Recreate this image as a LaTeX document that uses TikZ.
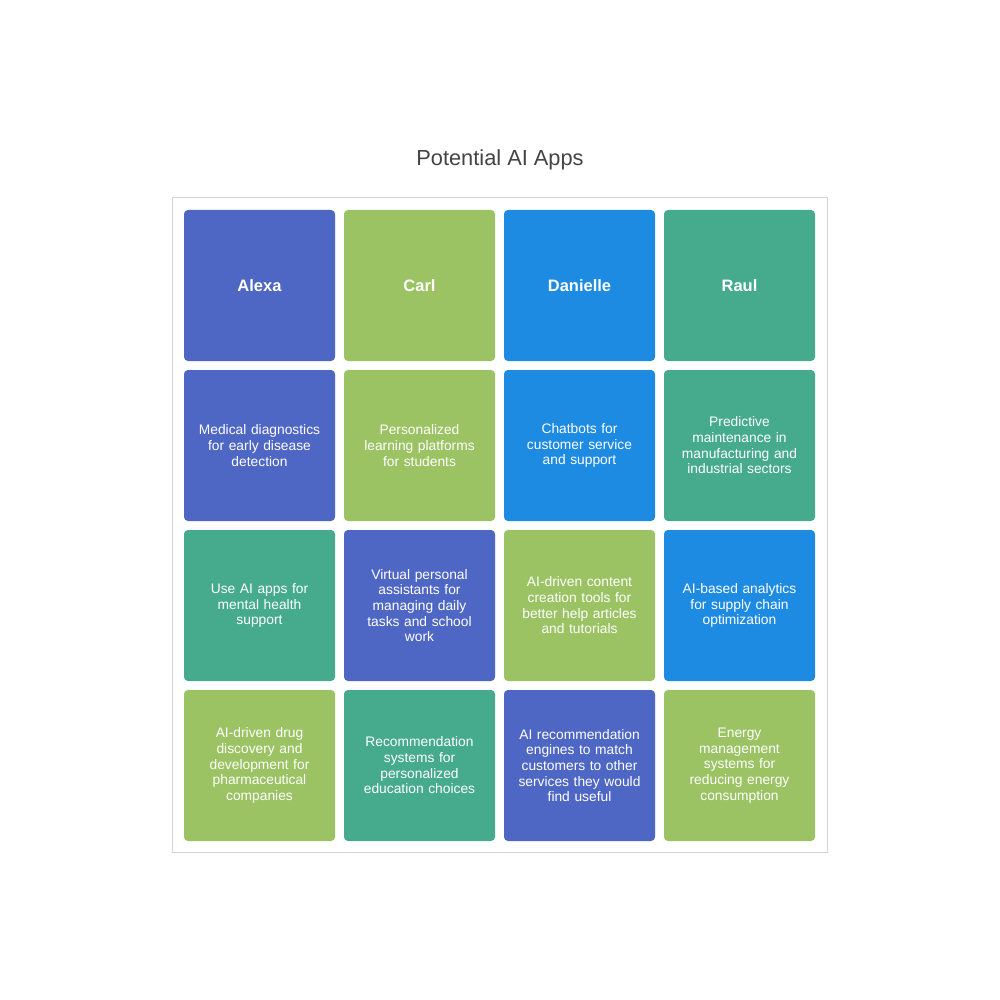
\documentclass[tikz,border=0pt]{standalone}
\usepackage{fontspec}
\setmainfont{Liberation Sans}
\usetikzlibrary{positioning}
\definecolor{indigo}{HTML}{4F67C4}
\definecolor{lime}{HTML}{9BC364}
\definecolor{sky}{HTML}{1E8BE3}
\definecolor{jade}{HTML}{45AB8C}
\definecolor{titlegray}{HTML}{444444}
\definecolor{framegray}{HTML}{D4D4D4}

\tikzset{
  tile/.style={fill=#1, draw=none, rounded corners=4pt, minimum width=151pt,
    minimum height=151pt, inner sep=0pt, text=white, text width=134pt, align=center,
    font=\fontsize{13.8}{15.7}\selectfont},
  nametile/.style={tile=#1, font=\fontsize{16.5}{19}\selectfont\bfseries}
}

\begin{document}
\begin{tikzpicture}[x=1pt, y=-1pt]
  \useasboundingbox[fill=white] (0,0) rectangle (1000,1000);
  \node[text=titlegray, font=\fontsize{21.8}{26}\selectfont] (title) at (500,159.5) {Potential AI Apps};
  \draw[framegray, line width=1pt] (172.5,197.5) rectangle (827.5,852.5);
  % names
  \foreach \c/\clr/\who in {0/indigo/Alexa, 1/lime/Carl, 2/sky/Danielle, 3/jade/Raul} {
    \node[nametile=\clr] (name-\c) at (259.5+160*\c, 285.5) {\who};
  }
  % ideas
  \foreach \r/\c/\clr/\txt in {
      1/0/indigo/{Medical diagnostics\\for early disease\\detection},
      1/1/lime/{Personalized\\learning platforms\\for students},
      1/2/sky/{Chatbots for\\customer service\\and support},
      1/3/jade/{Predictive\\maintenance in\\manufacturing and\\industrial sectors},
      2/0/jade/{Use AI apps for\\mental health\\support},
      2/1/indigo/{Virtual personal\\assistants for\\managing daily\\tasks and school\\work},
      2/2/lime/{AI-driven content\\creation tools for\\better help articles\\and tutorials},
      2/3/sky/{AI-based analytics\\for supply chain\\optimization},
      3/0/lime/{AI-driven drug\\discovery and\\development for\\pharmaceutical\\companies},
      3/1/jade/{Recommendation\\systems for\\personalized\\education choices},
      3/2/indigo/{AI recommendation\\engines to match\\customers to other\\services they would\\find useful},
      3/3/lime/{Energy\\management\\systems for\\reducing energy\\consumption}} {
    \node[tile=\clr] (idea-\r-\c) at (259.5+160*\c, 285.5+160*\r) {\txt};
  }
\end{tikzpicture}
\end{document}
